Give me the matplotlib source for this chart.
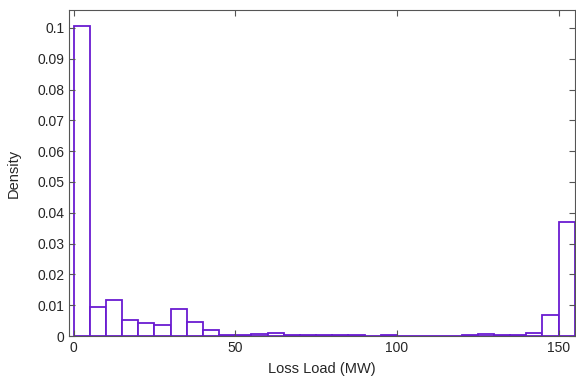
import numpy as np
import matplotlib
matplotlib.use('Agg')
import matplotlib.pyplot as plt

plt.rcParams['font.family'] = ['Liberation Sans', 'DejaVu Sans']

# histogram of loss load, bin width 5 MW
bin_edges = list(range(0, 160, 5))
density = [0.1005, 0.0093, 0.0118, 0.0051, 0.0042, 0.0037, 0.0088, 0.0044,
           0.0018, 0.0005, 0.0002, 0.0007, 0.0010, 0.0002, 0.0002, 0.0002,
           0.0002, 0.0002, 0.0, 0.0002, 0.0001, 0.0001, 0.0001, 0.0001,
           0.0003, 0.0007, 0.0003, 0.0003, 0.0010, 0.0069, 0.0369]
x_ticks = [0, 50, 100, 150]
y_ticks = [0, 0.01, 0.02, 0.03, 0.04, 0.05, 0.06, 0.07, 0.08, 0.09, 0.1]
y_ticklabels = ['0', '0.01', '0.02', '0.03', '0.04', '0.05', '0.06', '0.07', '0.08', '0.09', '0.1']

edges = np.array(bin_edges, dtype=float)
centers = (edges[:-1] + edges[1:]) / 2

fig = plt.figure(figsize=(5.76, 3.78), dpi=100)
ax = fig.add_axes([0.12, 0.111, 0.879, 0.8625])

ax.hist(centers, bins=edges, weights=density, histtype='bar',
        facecolor='white', edgecolor='#6a1bd1', linewidth=1.3)

ax.set_xlim(-1.4, 155.2)
ax.set_ylim(0, 0.1058)
ax.set_xticks(x_ticks)
ax.set_yticks(y_ticks)
ax.set_yticklabels(y_ticklabels)
ax.tick_params(direction='in', top=True, right=True, length=4, width=0.8,
               colors='#555555', labelcolor='#262626', labelsize=10)
for s in ax.spines.values():
    s.set_color('#555555')
    s.set_linewidth(0.8)

ax.set_xlabel('Loss Load (MW)', fontsize=10.5, color='#262626', labelpad=5)
ax.set_ylabel('Density', fontsize=10.5, color='#262626', labelpad=12)

fig.savefig('out.png', dpi=100)
